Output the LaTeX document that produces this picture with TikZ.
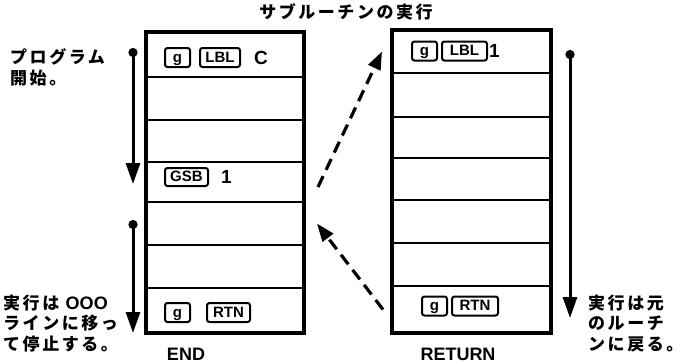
\documentclass[tikz,border=0pt]{standalone}
\usepackage{fontspec}
\setmainfont{Liberation Sans}
\newfontfamily\jp{Noto Sans CJK JP}[LetterSpace=15]
\usetikzlibrary{arrows.meta}
\begin{document}
\begin{tikzpicture}[x=1pt,y=-1pt,
  rowbox/.style={draw, line width=2.8pt, inner sep=0pt, outer sep=0pt},
  outline/.style={draw, line width=3.6pt},
  key/.style={draw, line width=2pt, rounded corners=2.5pt, inner sep=0pt, minimum height=19pt, text height=11pt, text depth=1.5pt, font=\bfseries\fontsize{15}{15}\selectfont},
  rowtxt/.style={anchor=west, inner sep=0pt, font=\bfseries\fontsize{19}{19}\selectfont},
  jtxt/.style={anchor=base west, inner sep=0pt, font=\jp\bfseries\fontsize{17}{17}\selectfont},
  etxt/.style={anchor=base, inner sep=0pt, font=\bfseries\fontsize{18}{18}\selectfont},
  flow/.style={line width=3pt, {Circle[length=9pt]}-{Triangle[length=21pt,width=14pt]}},
  jump/.style={line width=3.2pt, dash pattern=on 12pt off 7pt, -{Triangle[length=18pt,width=13pt]}}
]
\useasboundingbox (0,0) rectangle (691,364);

% left column
\foreach \i/\t/\b in {1/32/77,2/77/120,3/120/162,4/162/202,5/202/245,6/245/288,7/288/333}
  \node[rowbox, minimum width=158pt, minimum height={\b-\t}] (L\i) at (225,{(\t+\b)/2}) {};
\draw[outline] (L1.north west) rectangle (L7.south east);

% right column
\foreach \i/\t/\b in {1/30/73,2/73/117,3/117/158,4/158/200,5/200/243,6/243/286,7/286/333}
  \node[rowbox, minimum width=159pt, minimum height={\b-\t}] (R\i) at (471.5,{(\t+\b)/2}) {};
\draw[outline] (R1.north west) rectangle (R7.south east);

% row contents
\node[key, minimum width=25pt] (kg1) at (177.5,57.5) {g};
\node[key, minimum width=40pt] (klbl1) at (220,57.5) {LBL};
\node[rowtxt] (tC) at (254,57.5) {C};

\node[key, minimum width=43pt, minimum height=18pt] (kgsb) at (186.5,177) {GSB};
\node[rowtxt] (t1a) at (221,177) {1};

\node[key, minimum width=25pt] (kg2) at (177.5,312.5) {g};
\node[key, minimum width=43pt] (krtn1) at (228.5,312.5) {RTN};

\node[key, minimum width=25pt] (kg3) at (424.5,51) {g};
\node[key, minimum width=45pt] (klbl2) at (464.5,51) {LBL};
\node[rowtxt] (t1b) at (489,51) {1};

\node[key, minimum width=25pt] (kg4) at (434.5,306) {g};
\node[key, minimum width=46pt] (krtn2) at (475,306) {RTN};

% flow arrows
\coordinate (p1s) at (133,48);
\coordinate (p1e) at (133,184);
\coordinate (p2s) at (133,220);
\coordinate (p2e) at (133,333);
\coordinate (p3s) at (570,50);
\coordinate (p3e) at (570,318);
\draw[flow] (p1s) -- (p1e);
\draw[flow] (p2s) -- (p2e);
\draw[flow] (p3s) -- (p3e);

% jumps
\draw[jump] ([xshift=14pt,yshift=-5pt]L4.east) -- ([xshift=-10pt]R1.west);
\draw[jump] ([xshift=-9pt]R7.west) -- ([xshift=13pt]L5.east);

% texts
\node[jtxt, anchor=base] (title) at (346,19) {サブルーチンの実行};
\node[jtxt] (a1) at (10,63) {プログラム};
\node[jtxt] (a2) at (10,84) {開始。};
\node[jtxt] (b1) at (3,309) {実行は {\rmfamily\fontsize{18}{18}\selectfont OOO}};
\node[jtxt] (b2) at (3,329) {ラインに移っ};
\node[jtxt] (b3) at (3,350) {て停止する。};
\node[jtxt] (c1) at (588,309) {実行は元};
\node[jtxt] (c2) at (588,329) {のルーチ};
\node[jtxt] (c3) at (588,350) {ンに戻る。};
\node[etxt] (tend) at (186,360) {END};
\node[etxt] (tret) at (458,360) {RETURN};
\end{tikzpicture}
\end{document}
